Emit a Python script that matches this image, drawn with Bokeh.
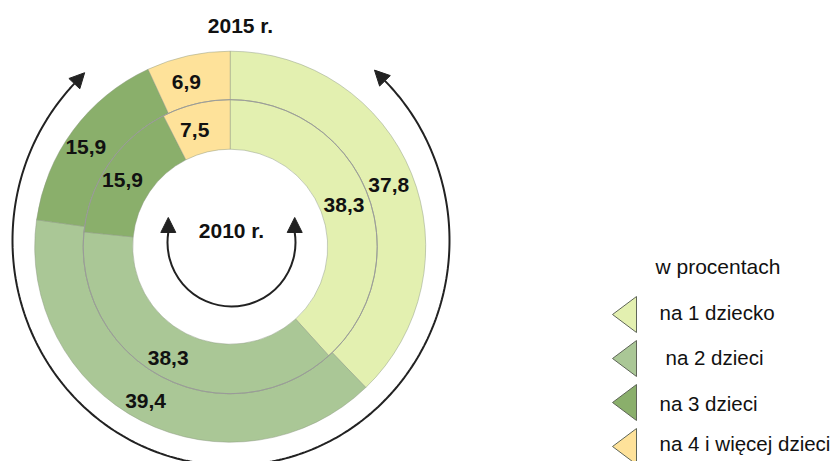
import numpy as np
from bokeh.plotting import figure
from bokeh.models import Range1d, Arrow, NormalHead, ColumnDataSource
from bokeh.core.properties import value
from bokeh.embed import file_html
from bokeh.resources import INLINE

# ---------------- data ----------------
categories = ["na 1 dziecko", "na 2 dzieci", "na 3 dzieci", "na 4 i więcej dzieci"]
values_2015 = [37.8, 39.4, 15.9, 6.9]
values_2010 = [38.3, 38.3, 15.9, 7.5]
labels_2015 = ["37,8", "39,4", "15,9", "6,9"]
labels_2010 = ["38,3", "38,3", "15,9", "7,5"]
colors = ["#E3F0B0", "#AAC796", "#8AAF6B", "#FEE29A"]
year_outer = "2015 r."
year_inner = "2010 r."
legend_title = "w procentach"

# ---------------- layout ----------------
W, H = 840, 461
FONT = "Liberation Sans"


def sy(y):
    """screen y (page pixels) -> data y"""
    return 461 - y


p = figure(width=W, height=H, x_range=Range1d(0, 840), y_range=Range1d(0, 461),
           output_backend="svg", toolbar_location=None, min_border=0,
           x_axis_location=None, y_axis_location=None)
p.grid.visible = False
p.outline_line_color = None
p.background_fill_color = "white"
p.border_fill_color = "white"

cx, cy = 229.7, sy(246.2)
R_in, R_mid, R_out = 97.5, 147.0, 195.5


def angles(vals):
    v = np.array(vals, dtype=float)
    cum = np.concatenate([[0.0], np.cumsum(v)])
    start = np.pi / 2 - cum[:-1] / 100 * 2 * np.pi
    end = np.pi / 2 - cum[1:] / 100 * 2 * np.pi
    return start, end, (start + end) / 2


edge = "#8e9a82"
for vals, r0, r1 in [(values_2015, R_mid, R_out), (values_2010, R_in, R_mid)]:
    s, e, _ = angles(vals)
    src = ColumnDataSource(dict(start=s, end=e, color=colors))
    p.annular_wedge(x=cx, y=cy, inner_radius=r0, outer_radius=r1,
                    start_angle="start", end_angle="end", direction="clock",
                    fill_color="color", line_color=edge, line_width=0.6,
                    line_alpha=0.8, source=src)

p.circle(x=cx, y=cy, radius=R_mid, fill_color=None, line_color="#9a9a9a", line_width=1)

# value labels
for vals, labs, rr in [(values_2015, labels_2015, 171.0), (values_2010, labels_2010, 122.0)]:
    _, _, mid = angles(vals)
    lx = cx + rr * np.cos(mid)
    ly = cy + rr * np.sin(mid) - 2
    lx = np.where(np.cos(mid) < 0, lx - 7, lx)
    p.text(x=list(lx), y=list(ly), text=labs, text_align="center", text_baseline="middle",
           text_font=value(FONT), text_font_style="bold", text_font_size="21px",
           text_color="#111111")

# year labels
p.text(x=[240], y=[sy(25)], text=[year_outer], text_align="center", text_baseline="middle",
       text_font=value(FONT), text_font_style="bold", text_font_size="21px", text_color="#111111")
p.text(x=[231], y=[sy(230)], text=[year_inner], text_align="center", text_baseline="middle",
       text_font=value(FONT), text_font_style="bold", text_font_size="21px", text_color="#111111")

# big outer arrow arc (slightly elliptical)
acol = "#222222"
ex, ey, rx, ry = 230.5, sy(240), 218.5, 225.0
t0, t1 = np.radians(135.8), np.radians(405.2)
t = np.linspace(t0, t1, 300)
p.line(ex + rx * np.cos(t), ey + ry * np.sin(t), line_color=acol, line_width=2)

for tt, sign in [(t0, -1), (t1, 1)]:
    bx, by = ex + rx * np.cos(tt), ey + ry * np.sin(tt)
    dx, dy = sign * (-rx * np.sin(tt)), sign * (ry * np.cos(tt))
    n = np.hypot(dx, dy)
    p.add_layout(Arrow(end=NormalHead(size=15, fill_color=acol, line_color=acol, line_width=1),
                       x_start=bx, y_start=by, x_end=bx + 15 * dx / n, y_end=by + 15 * dy / n,
                       line_color=acol, line_width=2))

# small inner arrow arc
scx, scy, sr = 231.0, sy(242), 64.0
a0, a1 = np.radians(171), np.radians(9)
p.arc(x=scx, y=scy, radius=sr, start_angle=a0, end_angle=a1, direction="anticlock",
      line_color=acol, line_width=2)
for aa in [a0, a1]:
    bx, by = scx + sr * np.cos(aa), scy + sr * np.sin(aa)
    p.add_layout(Arrow(end=NormalHead(size=15, fill_color=acol, line_color=acol, line_width=1),
                       x_start=bx, y_start=by, x_end=bx, y_end=by + 15,
                       line_color=acol, line_width=2))

# legend
leg_tri_y = [314, 358, 402, 446]
leg_txt_y = [312, 357, 403, 443]
leg_txt_dx = [0, 6, 0, 0]
tip_x, base_x, half_h = 612, 636, 18
xs = [[tip_x, base_x, base_x] for _ in leg_tri_y]
ys = [[sy(yc), sy(yc - half_h), sy(yc + half_h)] for yc in leg_tri_y]
p.patches(xs, ys, fill_color=colors, line_color="#5f6658", line_width=1)

p.text(x=[655], y=[sy(266)], text=[legend_title], text_align="left", text_baseline="middle",
       text_font=value(FONT), text_font_size="21px", text_color="#111111")
p.text(x=[659 + d for d in leg_txt_dx], y=[sy(v) for v in leg_txt_y], text=categories,
       text_align="left", text_baseline="middle",
       text_font=value(FONT), text_font_size="20.5px", text_color="#111111")

open("out.html", "w").write(file_html(p, INLINE))
